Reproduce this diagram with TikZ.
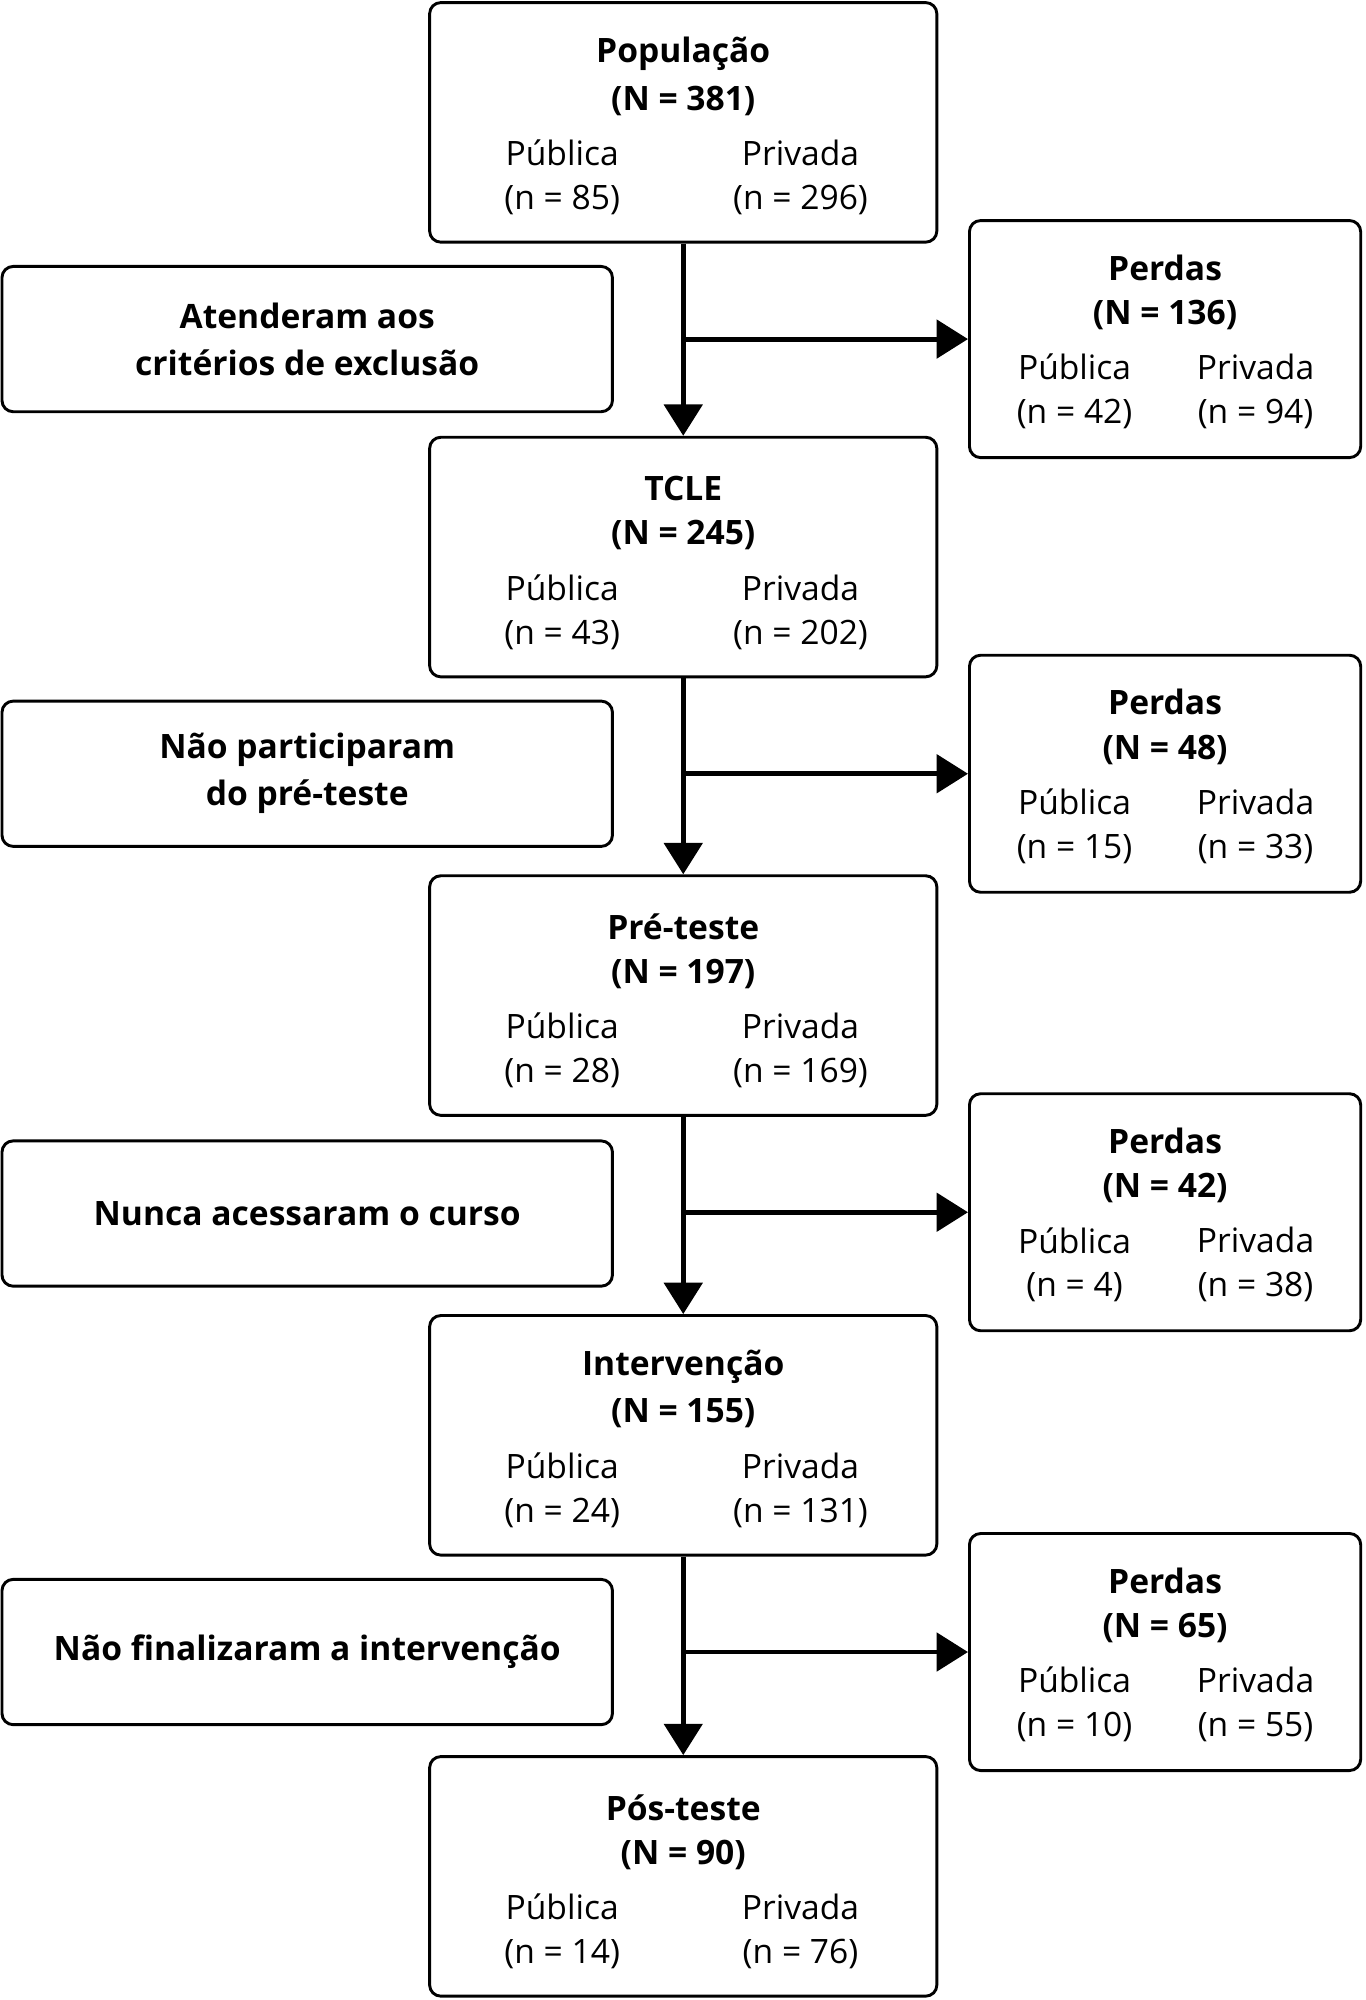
\documentclass[tikz,border=0pt]{standalone}
\usepackage{fontspec}
\setmainfont{Open Sans}
\usetikzlibrary{arrows.meta}

\tikzset{
  stagebox/.style={draw, line width=1.3pt, rounded corners=5pt, minimum width=7.96cm, minimum height=3.76cm},
  lossbox/.style={draw, line width=1.3pt, rounded corners=5pt, minimum width=6.14cm, minimum height=3.72cm},
  reasonbox/.style={draw, line width=1.3pt, rounded corners=5pt, minimum width=9.58cm, minimum height=2.28cm, align=center, font=\bfseries\fontsize{15}{21}\selectfont},
  lbl/.style={font=\fontsize{15}{19}\selectfont, inner sep=0pt},
  ttl/.style={font=\bfseries\fontsize{15}{19}\selectfont, inner sep=0pt},
  arr/.style={line width=2.2pt, -{Triangle[width=17pt,length=14pt]}}
}

% stage box: name, centre y, title, N, public n, private n
\newcommand{\stage}[6]{
  \node[stagebox] (#1) at (536,#2) {};
  \node[ttl] at (536,#2-54) {#3};
  \node[ttl] at (536,#2-17) {(N = #4)};
  \node[lbl] at (441,#2+24) {Pública};
  \node[lbl] at (628,#2+24) {Privada};
  \node[lbl] at (441,#2+61) {(n = #5)};
  \node[lbl] at (628,#2+61) {(n = #6)};
}
% loss box: name, centre y, N, public n, private n
\newcommand{\loss}[5]{
  \node[lossbox] (#1) at (914,#2) {};
  \node[ttl] at (914,#2-56) {Perdas};
  \node[ttl] at (914,#2-19) {(N = #3)};
  \node[lbl] at (843,#2+22) {Pública};
  \node[lbl] at (985,#2+22) {Privada};
  \node[lbl] at (843,#2+59) {(n = #4)};
  \node[lbl] at (985,#2+59) {(n = #5)};
}

\begin{document}
\begin{tikzpicture}[x=0.02cm, y=-0.02cm]
  \useasboundingbox (0,0) rectangle (1071,1569);

  % main stages
  \stage{pop}{96}{População}{381}{85}{296}
  \stage{tcle}{437}{TCLE}{245}{43}{202}
  \stage{pre}{781}{Pré-teste}{197}{28}{169}
  \stage{int}{1126}{Intervenção}{155}{24}{131}
  \stage{pos}{1472}{Pós-teste}{90}{14}{76}

  % losses
  \loss{l1}{266}{136}{42}{94}
  \loss{l2}{607}{48}{15}{33}
  \loss{l3}{951}{42}{4}{38}
  \loss{l4}{1296}{65}{10}{55}

  % reasons
  \node[reasonbox] (r1) at (241,266) {Atenderam aos\\critérios de exclusão};
  \node[reasonbox] (r2) at (241,607) {Não participaram\\do pré-teste};
  \node[reasonbox] (r3) at (241,952) {Nunca acessaram o curso};
  \node[reasonbox] (r4) at (241,1296) {Não finalizaram a intervenção};

  % arrows
  \draw[arr] (pop.south) -- (tcle.north);
  \draw[arr] (tcle.south) -- (pre.north);
  \draw[arr] (pre.south) -- (int.north);
  \draw[arr] (int.south) -- (pos.north);
  \draw[arr] (pop.south |- l1.west) -- (l1.west);
  \draw[arr] (tcle.south |- l2.west) -- (l2.west);
  \draw[arr] (pre.south |- l3.west) -- (l3.west);
  \draw[arr] (int.south |- l4.west) -- (l4.west);
\end{tikzpicture}
\end{document}
